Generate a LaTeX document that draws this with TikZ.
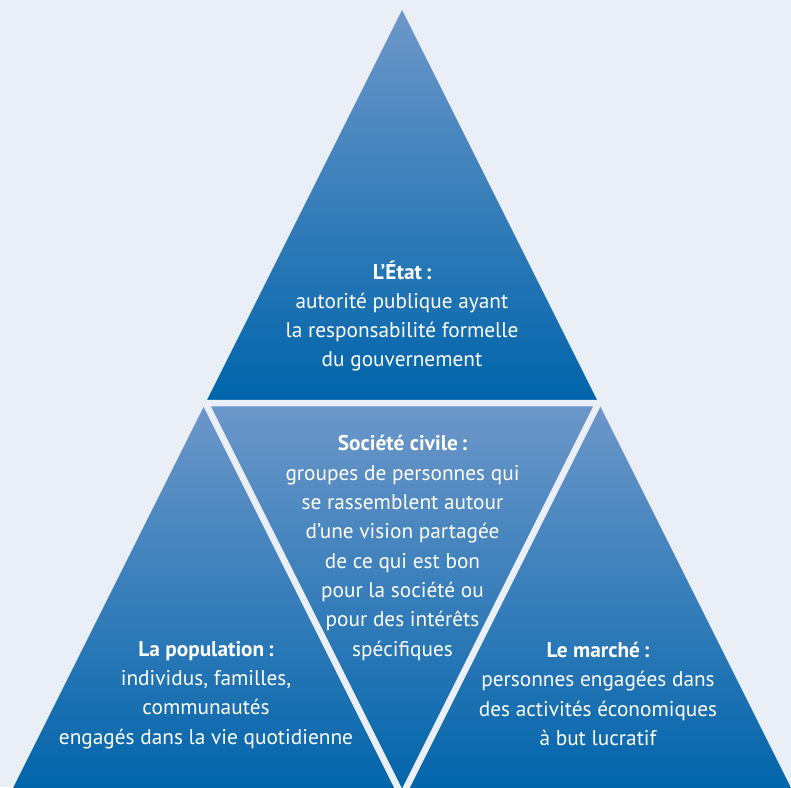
\documentclass[tikz,border=0pt]{standalone}
\usepackage{fontspec}
\setmainfont{PT Sans}
\definecolor{bgcol}{HTML}{EAEEF7}
\definecolor{tritop}{HTML}{6D97C9}
\definecolor{tribot}{HTML}{0064AA}
\tikzset{
  tri/.style={top color=tritop, bottom color=tribot, draw=none},
  gap/.style={draw=bgcol, line width=6.5pt, line join=miter},
  lbl/.style={text=white, align=center, font=\fontsize{21.3}{29.3}\selectfont, inner sep=0pt}
}
\begin{document}
\begin{tikzpicture}[x=1pt,y=-1pt]
\useasboundingbox (0,0) rectangle (791,787);
\fill[bgcol] (0,0) rectangle (791,787);
\begin{scope}
\clip (0,0) rectangle (791,787);
\coordinate (A) at (402,10);
\coordinate (P) at (205.5,403);
\coordinate (Q) at (598.5,403);
\coordinate (R) at (402,796);
\coordinate (BL) at (9,796);
\coordinate (BR) at (795,796);
\shade[tri] (A) -- (P) -- (Q) -- cycle;
\shade[tri] (P) -- (Q) -- (R) -- cycle;
\shade[tri] (P) -- (BL) -- (R) -- cycle;
\shade[tri] (Q) -- (R) -- (BR) -- cycle;
\draw[gap] (P) -- (Q) -- (R) -- cycle;
\end{scope}
\node[lbl] (etat) at (402,316) {\textbf{L’État\,:}\\autorité publique ayant\\la responsabilité formelle\\du gouvernement};
\node[lbl] (civ) at (402.5,548) {\textbf{Société civile\,:}\\groupes de personnes qui\\se rassemblent autour\\d’une vision partagée\\de ce qui est bon\\pour la société ou\\pour des intérêts\\spécifiques};
\node[lbl] (pop) at (206,695) {\textbf{La population\,:}\\individus, familles,\\communautés\\engagés dans la vie quotidienne};
\node[lbl] (mar) at (598,694) {\textbf{Le marché\,:}\\personnes engagées dans\\des activités économiques\\à but lucratif};
\end{tikzpicture}
\end{document}
